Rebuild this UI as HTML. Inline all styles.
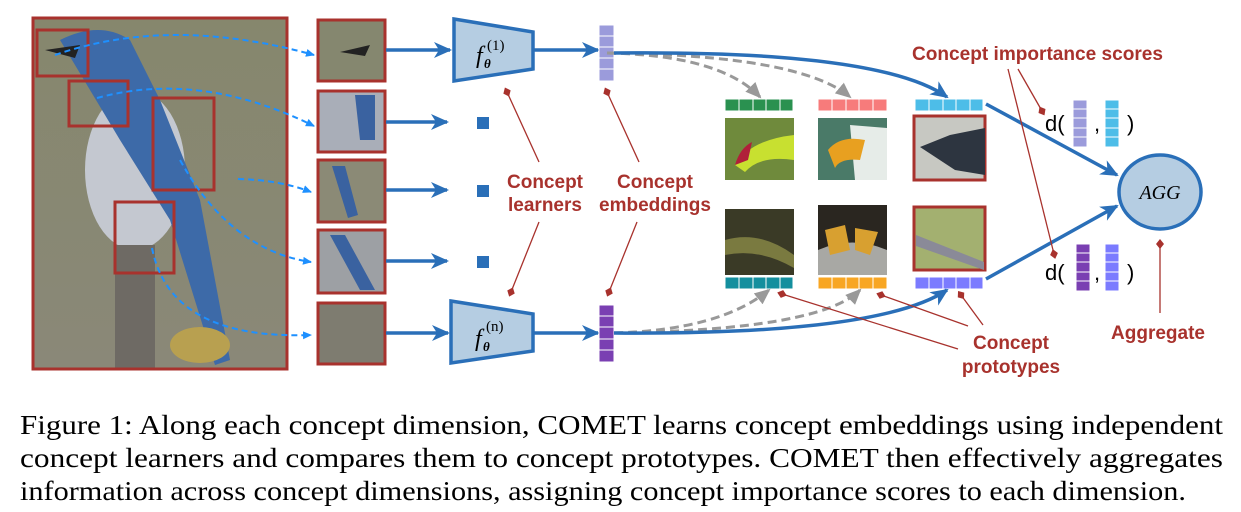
<!DOCTYPE html>
<html><head><meta charset="utf-8"><style>
body{margin:0;background:#fff;width:1241px;height:512px;overflow:hidden}
svg{display:block}
.lbl{font-family:"Liberation Sans",sans-serif;font-weight:bold;fill:#a8322d;font-size:19px}
.cap{font-family:"Liberation Serif",serif;font-size:27px;fill:#000}
</style></head><body>
<svg width="1241" height="512" viewBox="0 0 1241 512" xmlns="http://www.w3.org/2000/svg">
<defs>
<marker id="abl" markerWidth="18" markerHeight="16" refX="16" refY="8" orient="auto" markerUnits="userSpaceOnUse"><path d="M0,0 L18,8 L0,16 L5,8z" fill="#2a6fb8"/></marker>
<marker id="ag" markerWidth="16" markerHeight="14" refX="14" refY="7" orient="auto" markerUnits="userSpaceOnUse"><path d="M0,0 L16,7 L0,14z" fill="#999"/></marker>
<marker id="ac" markerWidth="10" markerHeight="10" refX="8" refY="5" orient="auto" markerUnits="userSpaceOnUse"><path d="M0,1 L9,5 L0,9z" fill="#1e90ff"/></marker>
<marker id="dm" markerWidth="10" markerHeight="10" refX="5" refY="5" orient="auto" markerUnits="userSpaceOnUse"><path d="M0,5 L5,1 L10,5 L5,9z" fill="#a8322d"/></marker>
<linearGradient id="bg" x1="0" y1="0" x2="0" y2="1"><stop offset="0" stop-color="#86876d"/><stop offset="1" stop-color="#8a8878"/></linearGradient>
</defs>

<rect x="33" y="18" width="254" height="351" fill="url(#bg)"/>
<ellipse cx="135" cy="170" rx="50" ry="80" fill="#c4c8d0"/>
<path d="M60 40 Q100 20 130 40 L160 100 L200 200 L230 360 L215 365 L170 220 L120 140Z" fill="#3d6aa8"/>
<path d="M45 50 L80 45 L75 58Z" fill="#222"/>
<rect x="115" y="245" width="40" height="124" fill="#6e6a64"/>
<ellipse cx="200" cy="345" rx="30" ry="18" fill="#b8a050"/>
<g fill="none" stroke="#a8322d" stroke-width="3">
<rect x="33" y="18" width="254" height="351"/>
<rect x="37" y="30" width="51" height="46"/>
<rect x="69" y="81" width="59" height="45"/>
<rect x="153" y="98" width="61" height="92"/>
<rect x="115" y="202" width="59" height="71"/>
</g>
<g fill="none" stroke="#1e90ff" stroke-width="2" stroke-dasharray="6,4" marker-end="url(#ac)">
<path d="M55 55 Q170 15 314 55"/>
<path d="M97 98 Q200 70 314 126"/>
<path d="M238 179 Q280 180 311 192"/>
<path d="M180 160 Q230 250 311 262"/>
<path d="M152 248 Q170 340 311 335"/>
</g>
<g stroke="#a8322d" stroke-width="3">
<rect x="318" y="20" width="67" height="61" fill="#85876f"/>
<rect x="318" y="91" width="67" height="61" fill="#a9aeb8"/>
<rect x="318" y="160" width="67" height="62" fill="#8b8a76"/>
<rect x="318" y="230" width="67" height="63" fill="#9da0a4"/>
<rect x="318" y="303" width="67" height="61" fill="#7e7c70"/>
</g>
<path d="M340 52 L370 45 L365 56Z" fill="#222"/>
<path d="M355 95 L375 95 L375 140 L360 140Z" fill="#3a62a0"/>
<path d="M330 235 L345 235 L375 290 L360 290Z" fill="#3a62a0"/>
<path d="M332 166 L345 166 L358 215 L348 218Z" fill="#3a62a0"/>
<g stroke="#2a6fb8" stroke-width="3.5" marker-end="url(#abl)" fill="none">
<line x1="386" y1="50" x2="450" y2="50"/>
<line x1="386" y1="122" x2="447" y2="122"/>
<line x1="386" y1="190" x2="447" y2="190"/>
<line x1="386" y1="261" x2="447" y2="261"/>
<line x1="386" y1="333" x2="448" y2="333"/>
<line x1="533" y1="50" x2="598" y2="50"/>
<line x1="533" y1="333" x2="598" y2="333"/>
</g>
<path d="M454 19 L533 32 L533 69 L454 81Z" fill="#b5cde2" stroke="#2a6fb8" stroke-width="3.5"/>
<path d="M451 301 L533 314 L533 351 L451 363Z" fill="#b5cde2" stroke="#2a6fb8" stroke-width="3.5"/>
<text x="476" y="63" font-family="Liberation Serif,serif" font-style="italic" font-size="24">f</text>
<text x="484" y="68" font-family="Liberation Serif,serif" font-style="italic" font-weight="bold" font-size="13">θ</text>
<text x="487" y="50" font-family="Liberation Serif,serif" font-size="15">(1)</text>
<text x="475" y="346" font-family="Liberation Serif,serif" font-style="italic" font-size="24">f</text>
<text x="483" y="351" font-family="Liberation Serif,serif" font-style="italic" font-weight="bold" font-size="13">θ</text>
<text x="486" y="331" font-family="Liberation Serif,serif" font-size="15">(n)</text>
<g fill="#2a6fb8"><rect x="477" y="117" width="12" height="12"/><rect x="477" y="185" width="12" height="12"/><rect x="477" y="256" width="12" height="12"/></g>
<g stroke="#fff" stroke-width="1">
<rect x="599" y="25" width="15" height="11" fill="#9b9bdb"/><rect x="599" y="36" width="15" height="11" fill="#9b9bdb"/><rect x="599" y="47" width="15" height="11" fill="#9b9bdb"/><rect x="599" y="58" width="15" height="11" fill="#9b9bdb"/><rect x="599" y="69" width="15" height="12" fill="#9b9bdb"/>
<rect x="599" y="305" width="15" height="11" fill="#7a3fb2"/><rect x="599" y="316" width="15" height="11" fill="#7a3fb2"/><rect x="599" y="327" width="15" height="12" fill="#7a3fb2"/><rect x="599" y="339" width="15" height="11" fill="#7a3fb2"/><rect x="599" y="350" width="15" height="12" fill="#7a3fb2"/>
</g>
<text class="lbl" x="545" y="188" text-anchor="middle">Concept</text>
<text class="lbl" x="545" y="211" text-anchor="middle">learners</text>
<text class="lbl" x="655" y="188" text-anchor="middle">Concept</text>
<text class="lbl" x="655" y="211" text-anchor="middle">embeddings</text>
<g stroke="#a8322d" stroke-width="1.3" fill="none">
<line x1="539" y1="162" x2="507" y2="92" marker-end="url(#dm)"/>
<line x1="539" y1="222" x2="511" y2="292" marker-end="url(#dm)"/>
<line x1="639" y1="162" x2="607" y2="92" marker-end="url(#dm)"/>
<line x1="637" y1="222" x2="609" y2="292" marker-end="url(#dm)"/>
</g>
<g stroke="#fff" stroke-width="1">
<g fill="#2a9150"><rect x="725" y="99" width="14" height="12"/><rect x="739" y="99" width="14" height="12"/><rect x="753" y="99" width="13" height="12"/><rect x="766" y="99" width="14" height="12"/><rect x="780" y="99" width="13" height="12"/></g>
<g fill="#148f9e"><rect x="725" y="277" width="14" height="12"/><rect x="739" y="277" width="14" height="12"/><rect x="753" y="277" width="13" height="12"/><rect x="766" y="277" width="14" height="12"/><rect x="780" y="277" width="13" height="12"/></g>
<g fill="#f77b7b"><rect x="818" y="99" width="14" height="12"/><rect x="832" y="99" width="14" height="12"/><rect x="846" y="99" width="13" height="12"/><rect x="859" y="99" width="14" height="12"/><rect x="873" y="99" width="14" height="12"/></g>
<g fill="#f8a623"><rect x="818" y="277" width="14" height="12"/><rect x="832" y="277" width="14" height="12"/><rect x="846" y="277" width="13" height="12"/><rect x="859" y="277" width="14" height="12"/><rect x="873" y="277" width="14" height="12"/></g>
<g fill="#4dbde8"><rect x="915" y="99" width="14" height="12"/><rect x="929" y="99" width="14" height="12"/><rect x="943" y="99" width="13" height="12"/><rect x="956" y="99" width="14" height="12"/><rect x="970" y="99" width="13" height="12"/></g>
<g fill="#7b7bff"><rect x="915" y="277" width="14" height="12"/><rect x="929" y="277" width="14" height="12"/><rect x="943" y="277" width="13" height="12"/><rect x="956" y="277" width="14" height="12"/><rect x="970" y="277" width="13" height="12"/></g>
</g>
<rect x="725" y="118" width="69" height="62" fill="#6f8a3c"/>
<path d="M735 165 Q750 140 794 135 L794 160 Q760 155 745 172Z" fill="#c8e030"/>
<path d="M735 165 Q740 148 752 142 L748 160Z" fill="#b0203a"/>
<rect x="725" y="209" width="69" height="66" fill="#3a3a26"/>
<path d="M725 240 Q760 230 794 255 L794 268 Q760 248 725 255Z" fill="#7a7a40"/>
<rect x="818" y="118" width="69" height="62" fill="#4a7a68"/>
<path d="M850 125 L887 128 L887 180 L855 180Z" fill="#e6ece8"/>
<path d="M828 150 Q840 135 865 140 L860 160 Q840 158 835 168Z" fill="#e8a020"/>
<rect x="818" y="205" width="69" height="70" fill="#2a2620"/>
<path d="M818 250 Q852 235 887 250 L887 275 L818 275Z" fill="#a8a8a4"/>
<path d="M825 230 L845 225 L850 250 L830 255Z M855 228 L878 232 L870 255 L855 250Z" fill="#d8a030"/>
<rect x="914" y="116" width="71" height="64" fill="#c7c8c2" stroke="#a8322d" stroke-width="3"/>
<path d="M920 147 L950 135 L985 128 L985 175 L955 170Z" fill="#2d3540"/>
<rect x="914" y="207" width="71" height="63" fill="#a3b070" stroke="#a8322d" stroke-width="3"/>
<path d="M916 235 L984 262 L984 270 L916 246Z" fill="#8a8a98"/>
<g fill="none" stroke="#999" stroke-width="3" stroke-dasharray="9,5" marker-end="url(#ag)">
<path d="M607 53 Q720 55 760 97"/>
<path d="M607 53 Q800 55 850 97"/>
<path d="M614 333 Q720 330 769 290"/>
<path d="M614 333 Q820 330 860 290"/>
</g>
<g fill="none" stroke="#2a6fb8" stroke-width="3.5" marker-end="url(#abl)">
<path d="M614 53 Q880 50 947 97"/>
<path d="M614 333 Q880 335 947 290"/>
<line x1="986" y1="104" x2="1117" y2="175"/>
<line x1="986" y1="279" x2="1117" y2="206"/>
</g>
<ellipse cx="1160" cy="192" rx="41" ry="37" fill="#b5cde2" stroke="#2a6fb8" stroke-width="3.5"/>
<text x="1160" y="199" text-anchor="middle" font-family="Liberation Serif,serif" font-style="italic" font-size="20">AGG</text>
<text class="lbl" x="912" y="60" textLength="251" lengthAdjust="spacingAndGlyphs">Concept importance scores</text>
<g stroke="#a8322d" stroke-width="1.3" fill="none">
<line x1="1018" y1="69" x2="1042" y2="111" marker-end="url(#dm)"/>
<line x1="1008" y1="69" x2="1054" y2="254" marker-end="url(#dm)"/>
<line x1="1160" y1="313" x2="1160" y2="244" marker-end="url(#dm)"/>
<line x1="968" y1="326" x2="881" y2="295" marker-end="url(#dm)"/>
<line x1="983" y1="325" x2="961" y2="295" marker-end="url(#dm)"/>
<line x1="958" y1="349" x2="782" y2="294" marker-end="url(#dm)"/>
</g>
<text x="1045" y="131" font-family="Liberation Sans,sans-serif" font-size="22">d(</text>
<text x="1094" y="131" font-family="Liberation Sans,sans-serif" font-size="22">,</text>
<text x="1127" y="131" font-family="Liberation Sans,sans-serif" font-size="22">)</text>
<text x="1045" y="280" font-family="Liberation Sans,sans-serif" font-size="22">d(</text>
<text x="1094" y="280" font-family="Liberation Sans,sans-serif" font-size="22">,</text>
<text x="1127" y="280" font-family="Liberation Sans,sans-serif" font-size="22">)</text>
<g stroke="#fff" stroke-width="1">
<g fill="#9b9bdb"><rect x="1073" y="100" width="14" height="9"/><rect x="1073" y="109" width="14" height="9"/><rect x="1073" y="118" width="14" height="10"/><rect x="1073" y="128" width="14" height="9"/><rect x="1073" y="137" width="14" height="10"/></g>
<g fill="#4dbde8"><rect x="1105" y="100" width="14" height="9"/><rect x="1105" y="109" width="14" height="9"/><rect x="1105" y="118" width="14" height="10"/><rect x="1105" y="128" width="14" height="9"/><rect x="1105" y="137" width="14" height="10"/></g>
<g fill="#7a3fb2"><rect x="1076" y="244" width="14" height="9"/><rect x="1076" y="253" width="14" height="9"/><rect x="1076" y="262" width="14" height="10"/><rect x="1076" y="272" width="14" height="9"/><rect x="1076" y="281" width="14" height="10"/></g>
<g fill="#7b7bff"><rect x="1105" y="244" width="14" height="9"/><rect x="1105" y="253" width="14" height="9"/><rect x="1105" y="262" width="14" height="10"/><rect x="1105" y="272" width="14" height="9"/><rect x="1105" y="281" width="14" height="10"/></g>
</g>
<text class="lbl" x="1158" y="339" text-anchor="middle">Aggregate</text>
<text class="lbl" x="1011" y="349" text-anchor="middle">Concept</text>
<text class="lbl" x="1011" y="373" text-anchor="middle">prototypes</text>
<text class="cap" x="20" y="434" textLength="1203" lengthAdjust="spacingAndGlyphs">Figure 1: Along each concept dimension, COMET learns concept embeddings using independent</text>
<text class="cap" x="20" y="467" textLength="1203" lengthAdjust="spacingAndGlyphs">concept learners and compares them to concept prototypes. COMET then effectively aggregates</text>
<text class="cap" x="20" y="500" textLength="1166" lengthAdjust="spacingAndGlyphs">information across concept dimensions, assigning concept importance scores to each dimension.</text>
</svg>
</body></html>
